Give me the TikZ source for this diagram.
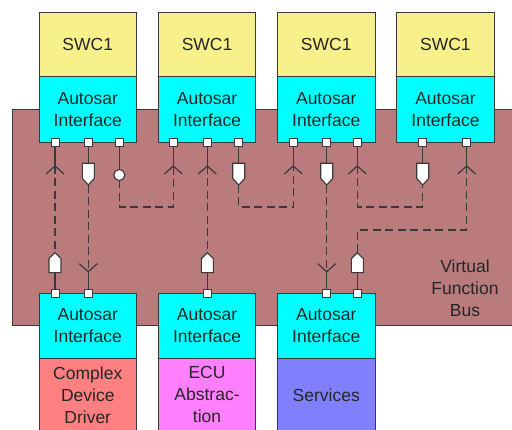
\documentclass[tikz,border=0pt]{standalone}
\usepackage{fontspec}
\setmainfont{Liberation Sans}
\definecolor{swcyellow}{HTML}{F8F08A}
\definecolor{ifcyan}{HTML}{00FFFF}
\definecolor{busbrown}{HTML}{B97B7B}
\definecolor{cddred}{HTML}{FF8080}
\definecolor{ecupink}{HTML}{FF80FF}
\definecolor{svcblue}{HTML}{8080FF}
\definecolor{edgegray}{HTML}{3A3A3A}
\definecolor{ink}{HTML}{262626}
\begin{document}
\begin{tikzpicture}[x=1pt,y=-1pt,
  box/.style={draw=edgegray,line width=1pt,minimum width=97.5pt,inner sep=0pt,text=ink,align=center,font=\fontsize{17.5}{22}\selectfont},
  swcbox/.style={box,fill=swcyellow,minimum height=64.3pt},
  ifbox/.style={box,fill=ifcyan,minimum height=65.7pt},
  bswbox/.style={box,minimum height=72.3pt},
  port/.style={draw=edgegray,fill=white,line width=0.8pt,minimum size=7pt,inner sep=0pt},
  wire/.style={draw=edgegray,line width=1.5pt},
  dashwire/.style={wire,dash pattern=on 8pt off 4.5pt},
  glyph/.style={draw=edgegray,line width=1.1pt,fill=white},
  forkdn/.pic={\draw[wire,line width=1.2pt] (-9,8) -- (0,0) -- (9,8);},
  forkup/.pic={\draw[wire,line width=1.2pt] (-9,-8) -- (0,0) -- (9,-8);},
  penddn/.pic={\draw[glyph] (-6,0) -- (6,0) -- (6,15) -- (0,21.7) -- (-6,15) -- cycle;},
  pendup/.pic={\draw[glyph] (-6,0) -- (6,0) -- (6,-14) -- (0,-20) -- (-6,-14) -- cycle;},
]
\useasboundingbox (0,0) rectangle (512,430);
\clip (0,0) rectangle (512,430);
% bus
\draw[draw=edgegray,line width=1pt,fill=busbrown] (12.3,109.3) rectangle (530,326);
\node[text=ink,align=center,font=\fontsize{17.5}{22}\selectfont] (vfb) at (465,288) {Virtual\\Function\\Bus};
% top SWCs
\foreach \n/\cx in {1/87.75,2/207.05,3/326.25,4/445.45}{
  \node[swcbox] (swc\n) at (\cx,44.85) {SWC1};
  \node[ifbox] (if\n) at (\cx,109.85) {Autosar\\Interface};
}
% bottom modules
\node[ifbox,minimum height=65.4pt] (bif1) at (87.75,326) {Autosar\\Interface};
\node[ifbox,minimum height=65.4pt] (bif2) at (207.05,326) {Autosar\\Interface};
\node[ifbox,minimum height=65.4pt] (bif3) at (326.25,326) {Autosar\\Interface};
\node[bswbox,fill=cddred] (cdd) at (87.75,394.85) {Complex\\Device\\Driver};
\node[bswbox,fill=ecupink] (ecu) at (207.05,394.85) {ECU\\Abstrac-\\tion};
\node[bswbox,fill=svcblue] (svc) at (326.25,394.85) {Services};
% ports
\foreach \nm/\px in {t11/55,t12/88.3,t13/119.3,t21/173.3,t22/207.3,t23/238.7,t31/293.3,t32/326.7,t33/357.3,t41/422.7,t42/466.7}{
  \node[port] (\nm) at (\px,142.7) {};
}
\foreach \nm/\px in {b11/55,b12/88.3,b21/207.3,b31/326.7,b32/357.3}{
  \node[port] (\nm) at (\px,293.3) {};
}
% marker coordinates (top)
\coordinate (f11) at (55,166);
\coordinate (f21) at (173.3,166);
\coordinate (f22) at (207.3,166);
\coordinate (f31) at (293.3,166);
\coordinate (f33) at (357.3,166);
\coordinate (f42) at (466.7,166);
\coordinate (p12) at (88.3,163.3);  \coordinate (pt12) at (88.3,185);
\coordinate (p23) at (238.7,163.3); \coordinate (pt23) at (238.7,185);
\coordinate (p32) at (326.7,163.3); \coordinate (pt32) at (326.7,185);
\coordinate (p41) at (422.7,163.3); \coordinate (pt41) at (422.7,185);
\coordinate (c13) at (119.3,175);
\coordinate (c13t) at (119.3,169.5); \coordinate (c13b) at (119.3,180.5);
% marker coordinates (bottom)
\coordinate (q11) at (55,272.7);    \coordinate (s11) at (55,252.7);
\coordinate (q21) at (207.3,272.7); \coordinate (s21) at (207.3,252.7);
\coordinate (q32) at (357.3,272.7); \coordinate (s32) at (357.3,252.7);
\coordinate (g12) at (88.3,271.7);
\coordinate (g31) at (326.7,271.7);
% dashed connectors
\draw[dashwire] (f11) -- (s11);
\draw[dashwire] (pt12) -- (g12);
\draw[dashwire] (c13b) -- (119.3,207) -| (f21);
\draw[dashwire] (f22) -- (s21);
\draw[dashwire] (pt23) -- (238.7,207) -| (f31);
\draw[dashwire] (pt32) -- (g31);
\draw[dashwire] (f33) -- (357.3,207) -| (pt41);
\draw[dashwire] (f42) -- (466.7,230) -| (s32);
% solid stubs
\foreach \a/\b in {t11/f11,t21/f21,t22/f22,t31/f31,t33/f33,t42/f42,t12/p12,t23/p23,t32/p32,t41/p41,t13/c13t}{
  \draw[wire] (\a.south) -- (\b);
}
\foreach \a/\b in {b11/q11,b21/q21,b32/q32,b12/g12,b31/g31}{
  \draw[wire] (\a.north) -- (\b);
}
% markers
\foreach \m in {f11,f21,f22,f31,f33,f42}{ \pic at (\m) {forkdn}; }
\foreach \m in {p12,p23,p32,p41}{ \pic at (\m) {penddn}; }
\foreach \m in {q11,q21,q32}{ \pic at (\m) {pendup}; }
\foreach \m in {g12,g31}{ \pic at (\m) {forkup}; }
\draw[glyph] (c13) circle (5.5);
% redraw ports on top
\foreach \nm in {t11,t12,t13,t21,t22,t23,t31,t32,t33,t41,t42,b11,b12,b21,b31,b32}{
  \path[port] (\nm.south west) rectangle (\nm.north east);
}
\end{tikzpicture}
\end{document}
